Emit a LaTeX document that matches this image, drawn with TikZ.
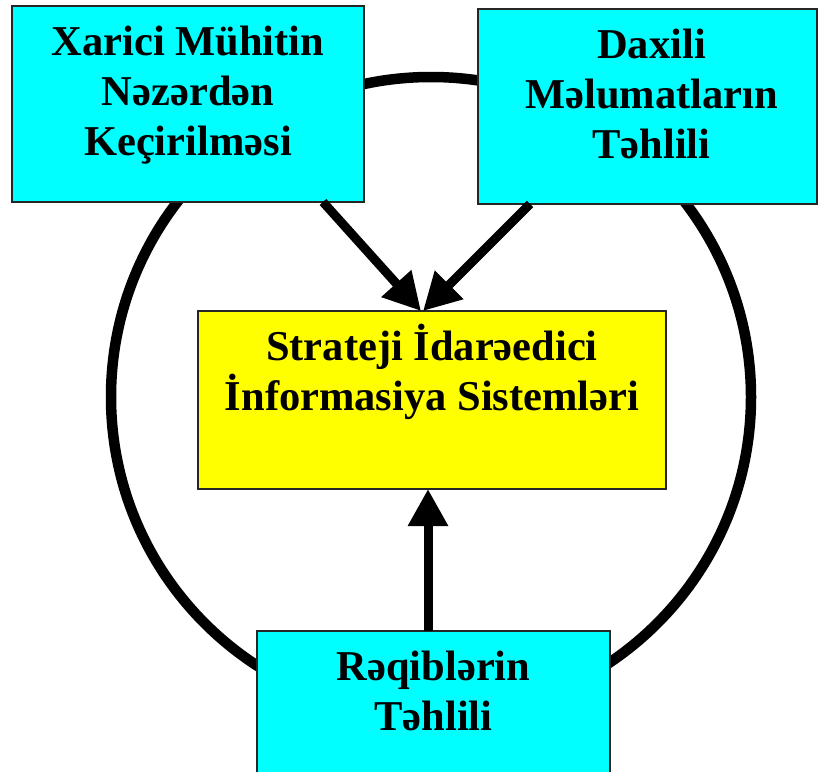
\documentclass[tikz,border=0pt]{standalone}
\usepackage{fontspec}
\setmainfont{Liberation Serif}
\usetikzlibrary{arrows.meta,calc}
\newcommand{\boxtxt}[3]{\parbox[t][#2][t]{#1}{\centering\rule{0pt}{49pt}#3}}
\tikzset{
  panel/.style={draw=black!85, line width=1.5pt, inner sep=0pt, outer sep=0pt, anchor=north west,
                font=\bfseries\fontsize{42.5}{50}\selectfont},
  cyanbox/.style={panel, fill={rgb,255:red,0;green,255;blue,255}},
  yellowbox/.style={panel, fill={rgb,255:red,255;green,255;blue,0}},
  ring/.style={line width=10.5pt},
  arr/.style={line width=9pt, -{Triangle[length=37pt,width=38pt]}}
}
\begin{document}
\begin{tikzpicture}[x=1pt,y=-1pt]
\clip (0,0) rectangle (819,771);
\fill[white] (0,0) rectangle (819,771);
\coordinate (ctr) at (431,397);
\draw[ring] (ctr) circle (320pt);
\node[cyanbox] (tl) at (12,6) {\boxtxt{352pt}{196pt}{Xarici Mühitin\\Nəzərdən\\Keçirilməsi}};
\node[cyanbox] (tr) at (478,9) {\boxtxt{339pt}{195pt}{\hspace*{8pt}Daxili\\\hspace*{8pt}Məlumatların\\\hspace*{8pt}Təhlili}};
\node[yellowbox] (c) at (198,311) {\boxtxt{468pt}{178pt}{Strateji İdarəedici\\İnformasiya Sistemləri}};
\node[cyanbox] (b) at (257,631) {\boxtxt{353pt}{180pt}{Rəqiblərin\\Təhlili}};
\draw[arr] ($(tl.south west)+(311,0)$) -- ($(c.north west)+(223,0)$);
\draw[arr] ($(tr.south west)+(52,0)$) -- ($(c.north west)+(225,0)$);
\draw[arr] ($(b.north west)+(171,0)$) -- ($(c.south west)+(230,0)$);
\end{tikzpicture}
\end{document}
